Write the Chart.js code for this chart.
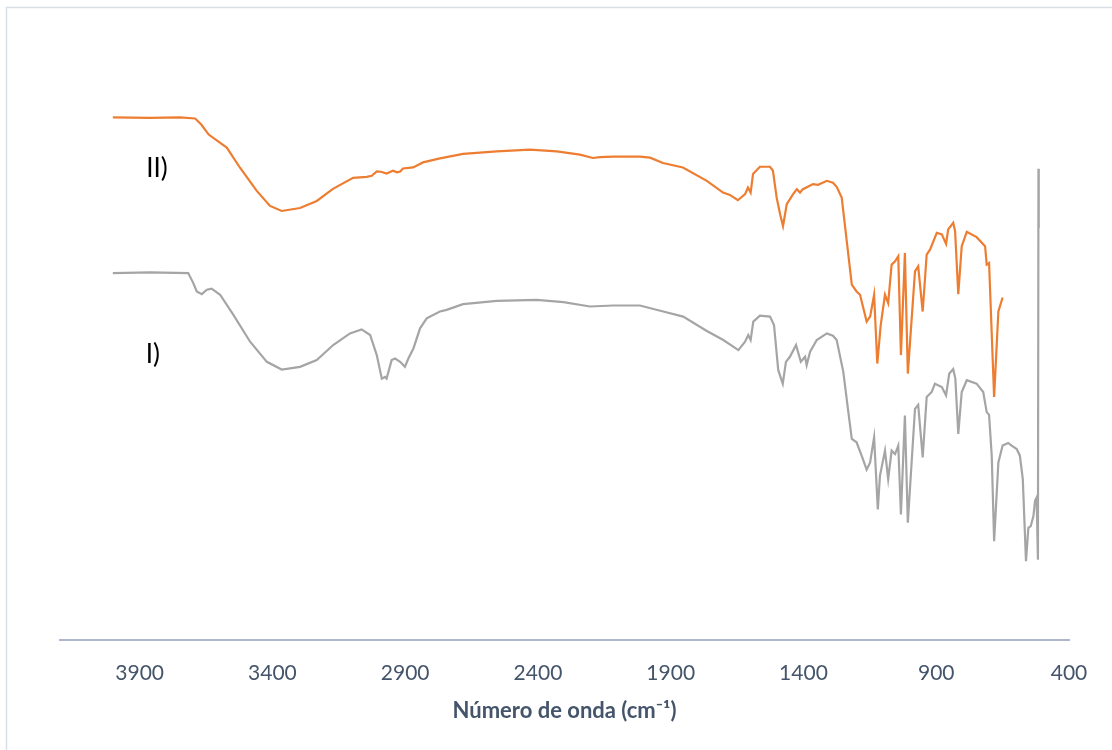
<!DOCTYPE html>
<html>
<head>
<meta charset="utf-8">
<script src="https://cdn.jsdelivr.net/npm/chart.js@4"></script>
<style>
  html, body { margin: 0; padding: 0; background: #ffffff; }
  #wrap { width: 1112px; height: 750px; }
</style>
</head>
<body>
<div id="wrap"><canvas id="c" width="1112" height="750"></canvas></div>
<script>
// Wavenumbers (cm-1) and relative transmittance (arbitrary units, offset traces)
const waveII = [4001,3861,3748,3691,3668,3640,3572,3522,3459,3409,3365,3296,3233,3172,3096,3045,3026,3007,2991,2970,2946,2931,2919,2908,2870,2833,2769,2682,2555,2430,2329,2242,2193,2166,2117,2016,1978,1929,1854,1764,1703,1677,1647,1620,1609,1599,1590,1564,1526,1515,1501,1488,1477,1463,1439,1425,1413,1402,1364,1345,1312,1289,1275,1256,1237,1218,1200,1187,1162,1149,1134,1122,1109,1093,1081,1068,1055,1043,1033,1018,1007,980,968,951,936,923,898,879,863,855,836,829,817,804,785,748,716,710,701,682,666,650];
const transII = [52.0,51.95,52.0,51.9,51.3,50.3,49.0,47.0,44.7,43.2,42.7,43.0,43.7,44.9,46.0,46.1,46.2,46.63,46.6,46.43,46.7,46.55,46.63,46.93,47.03,47.53,47.93,48.37,48.63,48.8,48.63,48.3,47.97,48.05,48.1,48.1,48.0,47.47,47.03,45.7,44.53,44.3,43.77,44.37,45.03,44.53,46.37,47.1,47.1,46.7,44.03,42.37,41.2,43.37,44.37,44.87,44.53,44.87,45.37,45.3,45.7,45.5,45.1,44.03,39.7,35.37,34.7,34.37,31.7,32.2,34.37,27.53,31.37,34.37,33.53,37.37,37.7,38.2,28.37,38.53,26.53,36.7,37.2,32.7,38.37,38.87,40.53,40.37,39.43,40.87,41.53,40.7,34.43,39.2,40.63,40.1,39.2,37.37,37.53,24.2,32.7,34.1];

const waveI = [4001,3861,3717,3698,3685,3666,3647,3629,3597,3547,3484,3421,3365,3296,3233,3171,3108,3064,3032,3007,2988,2976,2970,2951,2938,2919,2901,2888,2869,2844,2819,2769,2744,2682,2555,2405,2304,2204,2116,2016,1928,1853,1764,1702,1645,1620,1608,1599,1589,1564,1526,1511,1495,1478,1466,1451,1428,1410,1394,1388,1375,1350,1312,1289,1275,1250,1231,1218,1200,1181,1162,1149,1134,1120,1112,1093,1081,1068,1055,1043,1033,1018,1007,980,968,951,936,917,905,879,863,851,836,828,817,804,785,748,723,710,701,691,682,666,650,629,616,597,585,574,562,553,544,534,528,522,517,515,514];
const transI = [36.53,36.6,36.53,35.53,34.7,34.43,34.87,34.97,34.37,32.37,29.7,27.7,26.93,27.2,27.87,29.37,30.53,30.93,30.37,28.37,26.03,26.2,26.03,27.87,28.03,27.7,27.2,28.03,29.03,31.03,32.03,32.7,32.87,33.43,33.77,33.87,33.63,33.2,33.3,33.3,32.7,32.2,30.77,29.87,28.87,29.7,30.37,29.87,31.7,32.3,32.2,31.37,26.87,25.53,27.7,28.2,29.37,27.7,28.2,27.37,28.7,29.87,30.53,30.3,29.87,26.7,22.7,20.03,19.7,18.37,16.97,17.7,20.2,13.03,16.37,18.87,16.03,18.87,18.53,19.37,12.53,22.37,11.7,23.03,23.43,18.2,24.2,24.7,25.53,25.2,24.37,26.53,26.97,26.03,20.53,24.7,25.87,25.53,24.7,22.7,22.43,18.37,9.87,17.7,19.37,19.63,19.37,19.03,18.37,16.03,7.87,11.2,11.37,12.37,13.87,14.2,8.03,46.9,41.0];

const xTicks = [3900, 3400, 2900, 2400, 1900, 1400, 900, 400];
const seriesNames = ['II)', 'I)'];
const seriesColors = ['#ED7D31', '#A5A5A5'];
const labelPositions = [[3835, 46.9], [3850, 28.4]];
const xTitle = 'Número de onda (cm⁻¹)';

function pairs(xs, ys) { return xs.map((x, i) => ({ x: x, y: ys[i] })); }

const frame = {
  id: 'frame',
  beforeDraw(chart) {
    const ctx = chart.ctx;
    ctx.save();
    ctx.fillStyle = '#ffffff';
    ctx.fillRect(0, 0, chart.width, chart.height);
    ctx.strokeStyle = '#D9DFE7';
    ctx.lineWidth = 1.5;
    ctx.beginPath();
    ctx.moveTo(6.5, chart.height);
    ctx.lineTo(6.5, 7.5);
    ctx.lineTo(chart.width, 7.5);
    ctx.stroke();
    ctx.restore();
  }
};

const seriesLabels = {
  id: 'seriesLabels',
  afterDatasetsDraw(chart) {
    const ctx = chart.ctx;
    const xs = chart.scales.x, ys = chart.scales.y;
    ctx.save();
    ctx.fillStyle = '#000000';
    ctx.font = '26px Lato, "Liberation Sans", sans-serif';
    ctx.textAlign = 'center';
    ctx.textBaseline = 'middle';
    seriesNames.forEach((name, i) => {
      const p = labelPositions[i];
      ctx.fillText(name, xs.getPixelForValue(p[0]), ys.getPixelForValue(p[1]));
    });
    ctx.restore();
  }
};

new Chart(document.getElementById('c'), {
  type: 'line',
  data: {
    datasets: [
      { label: seriesNames[0], data: pairs(waveII, transII), borderColor: seriesColors[0], borderWidth: 2.2, pointRadius: 0, tension: 0, fill: false },
      { label: seriesNames[1], data: pairs(waveI, transI), borderColor: seriesColors[1], borderWidth: 2.2, pointRadius: 0, tension: 0, fill: false }
    ]
  },
  options: {
    responsive: false,
    animation: false,
    events: [],
    layout: { padding: { left: 60, right: 43, top: 37, bottom: 26 } },
    plugins: { legend: { display: false }, tooltip: { enabled: false }, title: { display: false } },
    scales: {
      x: {
        type: 'linear',
        reverse: true,
        min: 400,
        max: 4200,
        afterBuildTicks(scale) { scale.ticks = xTicks.map(v => ({ value: v })); },
        grid: { display: false, drawTicks: false },
        border: { display: true, color: '#ADB9CA', width: 2 },
        ticks: { color: '#44546A', font: { family: 'Lato, "Liberation Sans", sans-serif', size: 21 }, padding: 20, maxRotation: 0, autoSkip: false,
                 callback: (v) => String(v) },
        title: { display: true, text: xTitle, color: '#44546A', font: { family: 'Lato, "Liberation Sans", sans-serif', size: 22, weight: 'bold' }, padding: { top: -8, bottom: 0 } }
      },
      y: {
        display: false,
        min: 0,
        max: 60
      }
    }
  },
  plugins: [frame, seriesLabels]
});
</script>
</body>
</html>
